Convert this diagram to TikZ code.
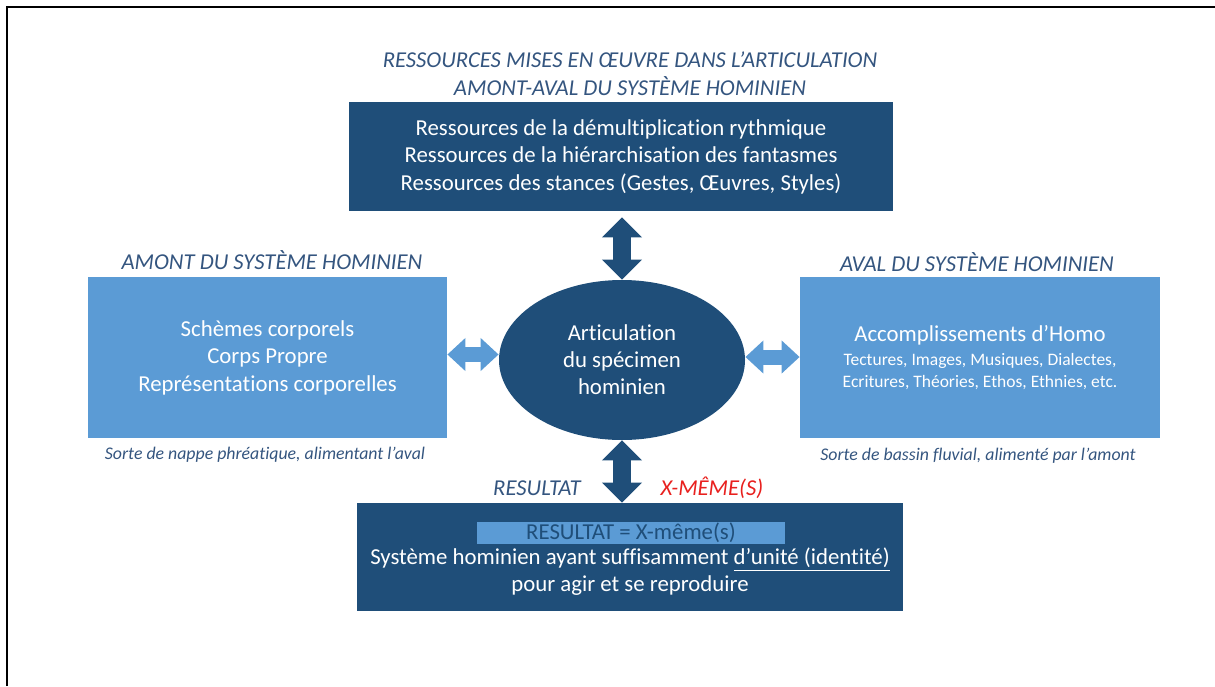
\documentclass[tikz,border=0pt]{standalone}
\usepackage{fontspec}
\setmainfont{Carlito}[Ligatures=NoCommon]
\usetikzlibrary{arrows.meta,shapes.geometric}
\definecolor{boxdark}{HTML}{1F4E79}
\definecolor{boxlight}{HTML}{5B9BD5}
\definecolor{headblue}{HTML}{34557F}
\definecolor{resred}{HTML}{E8201E}
\tikzset{
  darkbox/.style={fill=boxdark, draw=none, text=white, align=center, inner sep=0pt, font=\fontsize{11.4}{13.75}\selectfont},
  lightbox/.style={fill=boxlight, draw=none, text=white, align=center, inner sep=0pt, font=\fontsize{11.4}{13.75}\selectfont},
  heading/.style={text=headblue, align=center, inner sep=0pt, font=\fontsize{11.35}{14}\selectfont\itshape},
  caption/.style={text=headblue, inner sep=0pt, font=\fontsize{8.9}{10}\selectfont\itshape},
  fatarrow/.style={draw=boxdark, line width=9pt, {Triangle[width=19.5pt,length=10pt]}-{Triangle[width=19.5pt,length=10pt]}},
  fatarrowlight/.style={draw=boxlight, line width=7.5pt, {Triangle[width=16pt,length=9pt]}-{Triangle[width=16pt,length=9pt]}},
}

\begin{document}
\begin{tikzpicture}[x=0.5pt,y=-0.5pt]
  \useasboundingbox (0,0) rectangle (1215,686);
  % cadre
  \draw[line width=1pt] (7,686) -- (7,7) -- (1215,7);

  % haut : ressources
  \node[heading] (titre) at (630,74) {RESSOURCES MISES EN ŒUVRE DANS L’ARTICULATION\\AMONT-AVAL DU SYSTÈME HOMINIEN};
  \node[darkbox, minimum width=272pt, minimum height=54.5pt] (ress) at (621,156.5)
    {Ressources de la démultiplication rythmique\\Ressources de la hiérarchisation des fantasmes\\Ressources des stances (Gestes, Œuvres, Styles)};

  % centre
  \node[ellipse, fill=boxdark, text=white, minimum width=123pt, minimum height=80pt, inner sep=0pt, align=center,
    font=\fontsize{11.4}{13.5}\selectfont] (artic) at (622,360) {Articulation\\du spécimen\\hominien};

  % amont
  \node[heading] (titreamont) at (272,260) {AMONT DU SYSTÈME HOMINIEN};
  \node[lightbox, minimum width=179.5pt, minimum height=80.5pt] (amont) at (267.5,357.5)
    {Schèmes corporels\\Corps Propre\\Représentations corporelles};
  \node[caption] (nappe) at (265,455) {Sorte de nappe phréatique, alimentant l’aval};

  % aval
  \node[heading] (titreaval) at (977,262) {AVAL DU SYSTÈME HOMINIEN};
  \node[lightbox, minimum width=180pt, minimum height=80.5pt, font=\fontsize{8.75}{11}\selectfont] (aval) at (980,357.5)
    {{\fontsize{11.4}{14}\selectfont Accomplissements d’Homo}\\[1pt]Tectures, Images, Musiques, Dialectes,\\Ecritures, Théories, Ethos, Ethnies, etc.};
  \node[caption] (bassin) at (978,456) {Sorte de bassin fluvial, alimenté par l’amont};

  % bas : resultat
  \node[heading] (lresultat) at (537,488) {RESULTAT};
  \node[heading, text=resred] (lxmeme) at (712,488) {X-MÊME(S)};
  \node[darkbox, minimum width=273pt, minimum height=54pt] (resultat) at (630,557) {};
  \node[fill=boxlight, text=boxdark, minimum width=154pt, minimum height=11pt, inner sep=0pt,
    font=\fontsize{11.4}{13.5}\selectfont] (egal) at (631,533) {RESULTAT = X-même(s)};
  \node[text=white, align=center, inner sep=0pt, font=\fontsize{11.4}{13.5}\selectfont] (systeme) at (630,571.5)
    {Système hominien ayant suffisamment \underline{d’unité (identité)}\\pour agir et se reproduire};

  % fleches
  \draw[fatarrow, shorten <=3pt] (artic.north |- ress.south) -- (artic.north);
  \draw[fatarrow] (artic.south) -- (artic.south |- resultat.north);
  \draw[fatarrowlight] ([yshift=1.5pt]amont.east) -- ([yshift=1.5pt]amont.east -| artic.west);
  \draw[fatarrowlight] ([yshift=1.5pt]artic.east) -- ([yshift=1.5pt]artic.east -| aval.west);
\end{tikzpicture}
\end{document}
